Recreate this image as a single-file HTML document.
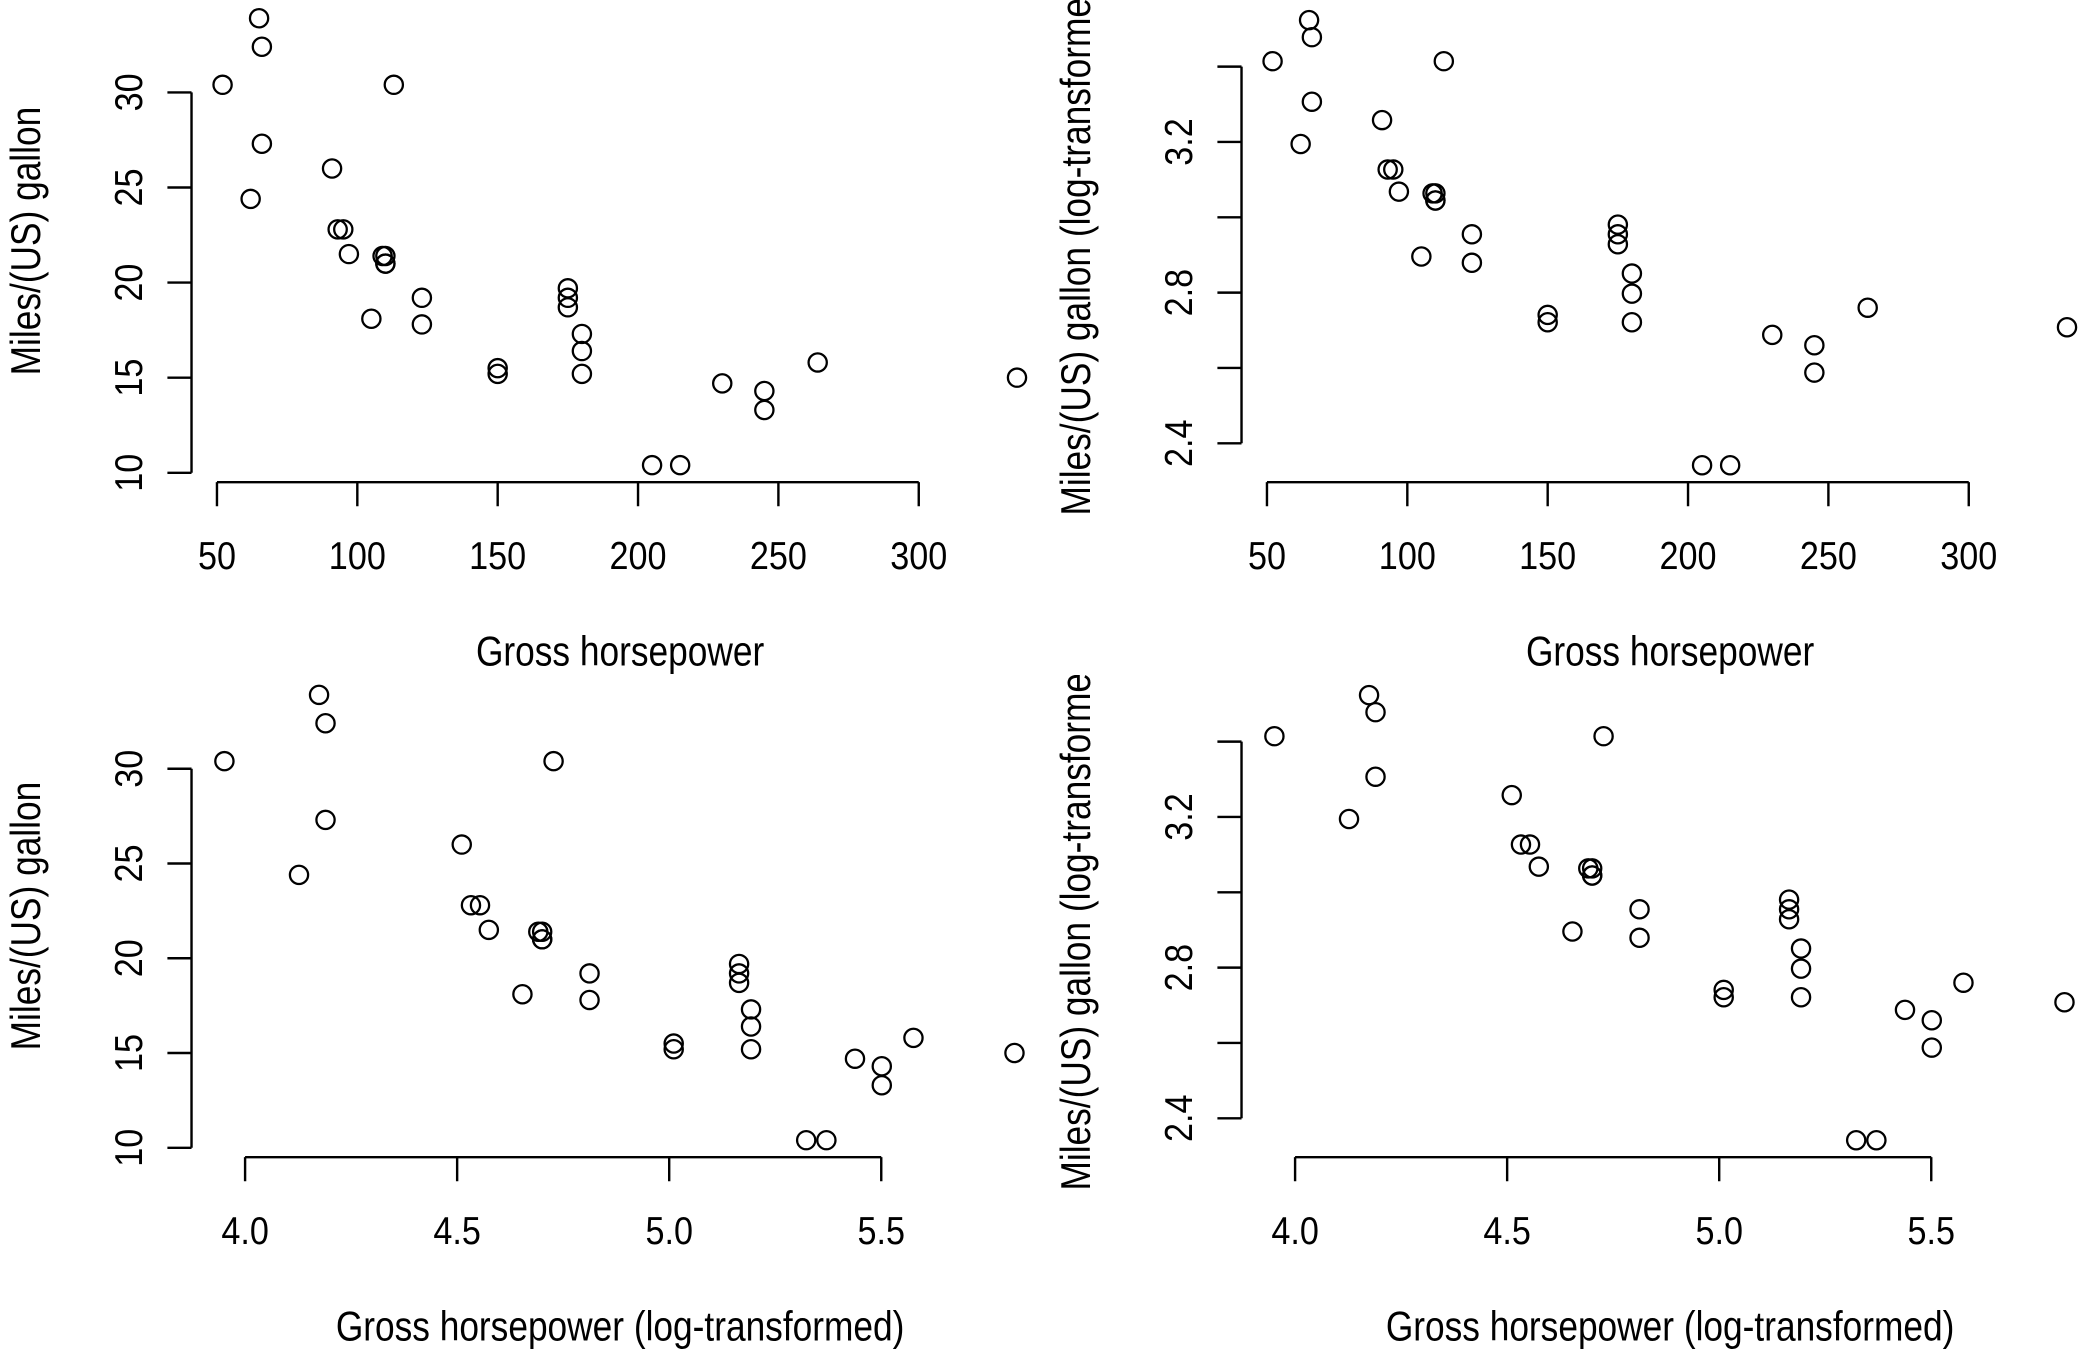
<!DOCTYPE html>
<html><head><meta charset="utf-8"><style>
html,body{margin:0;padding:0;background:#fff;}
svg{display:block;}
text{font-family:"Liberation Sans",sans-serif;fill:#000;}
</style></head><body>
<svg id="chart" width="2100" height="1350" viewBox="0 0 1568 1008" xmlns="http://www.w3.org/2000/svg">
<defs>
<clipPath id="c0"><rect x="0" y="0" width="784" height="504"/></clipPath>
<clipPath id="c1"><rect x="784" y="0" width="784" height="504"/></clipPath>
<clipPath id="c2"><rect x="0" y="504" width="784" height="504"/></clipPath>
<clipPath id="c3"><rect x="784" y="504" width="784" height="504"/></clipPath>
</defs>
</svg>
<script>
const hp=[110,110,93,110,175,105,245,62,95,123,123,180,180,180,205,215,230,66,52,65,97,150,150,245,175,66,91,113,264,175,335,109];
const mpg=[21,21,22.8,21.4,18.7,18.1,14.3,24.4,22.8,19.2,17.8,16.4,17.3,15.2,10.4,10.4,14.7,32.4,30.4,33.9,21.5,15.5,15.2,13.3,19.2,27.3,26,30.4,15.8,19.7,15,21.4];
const xTicksHp=[50,100,150,200,250,300];
const xTicksLog=[4.0,4.5,5.0,5.5];
const yTicksMpg=[10,15,20,25,30];
const yLabelsMpg=["10","15","20","25","30"];
const yTicksLog=[2.4,2.6,2.8,3.0,3.2,3.4];
const yLabelsLog=["2.4","","2.8","","3.2",""];
const svg=document.getElementById('chart');
const NS="http://www.w3.org/2000/svg";
function mk(tag,attrs,parent){const e=document.createElementNS(NS,tag);for(const k in attrs)e.setAttribute(k,attrs[k]);parent.appendChild(e);return e;}
const panels=[
 {ox:0,oy:0,logx:false,logy:false,xt:xTicksHp,xl:xTicksHp.map(String),x0:50,x1:300,px0:162,px1:686,yt:yTicksMpg,yl:yLabelsMpg,y0:10,y1:30,py0:353,py1:69,xlab:"Gross horsepower",ylab:"Miles/(US) gallon",name:"hp-vs-mpg"},
 {ox:784,oy:0,logx:false,logy:true,xt:xTicksHp,xl:xTicksHp.map(String),x0:50,x1:300,px0:946,px1:1470,yt:yTicksLog,yl:yLabelsLog,y0:2.4,y1:3.2,py0:331,py1:106,xlab:"Gross horsepower",ylab:"Miles/(US) gallon (log-transformed)",name:"hp-vs-logmpg"},
 {ox:0,oy:504,logx:true,logy:false,xt:xTicksLog,xl:["4.0","4.5","5.0","5.5"],x0:4,x1:5.5,px0:183,px1:658,yt:yTicksMpg,yl:yLabelsMpg,y0:10,y1:30,py0:857,py1:574,xlab:"Gross horsepower (log-transformed)",ylab:"Miles/(US) gallon",name:"loghp-vs-mpg"},
 {ox:784,oy:504,logx:true,logy:true,xt:xTicksLog,xl:["4.0","4.5","5.0","5.5"],x0:4,x1:5.5,px0:967,px1:1442,yt:yTicksLog,yl:yLabelsLog,y0:2.4,y1:3.2,py0:835,py1:610,xlab:"Gross horsepower (log-transformed)",ylab:"Miles/(US) gallon (log-transformed)",name:"loghp-vs-logmpg"}
];
panels.forEach((p,i)=>{
 const g=mk('g',{'clip-path':'url(#c'+i+')'},svg);
 
 
 const sx=v=>p.px0+(v-p.x0)*(p.px1-p.px0)/(p.x1-p.x0);
 const sy=v=>p.py0+(v-p.y0)*(p.py1-p.py0)/(p.y1-p.y0);
 const axY=p.oy+360, axX=p.ox+143;
 const xa=mk('g',{},g);
 
 
 mk('line',{x1:sx(p.xt[0]),x2:sx(p.xt[p.xt.length-1]),y1:axY,y2:axY,stroke:'#000','stroke-width':1.8},xa);
 p.xt.forEach((t,j)=>{
  mk('line',{x1:sx(t),x2:sx(t),y1:axY,y2:axY+18,stroke:'#000','stroke-width':1.8},xa);
  const tx=mk('text',{x:0,y:0,'text-anchor':'middle','font-size':29,transform:`translate(${sx(t)},${p.oy+425}) scale(0.88,1)`},xa);
  tx.textContent=p.xl[j];
  
  
 });
 const ya=mk('g',{},g);
 
 
 mk('line',{x1:axX,x2:axX,y1:sy(p.yt[0]),y2:sy(p.yt[p.yt.length-1]),stroke:'#000','stroke-width':1.8},ya);
 p.yt.forEach((t,j)=>{
  mk('line',{x1:axX,x2:axX-18,y1:sy(t),y2:sy(t),stroke:'#000','stroke-width':1.8},ya);
  if(p.yl[j]){
   const tx=mk('text',{x:0,y:0,'text-anchor':'middle','font-size':29,transform:`translate(${p.ox+106},${sy(t)}) rotate(-90) scale(0.88,1)`},ya);
   tx.textContent=p.yl[j];
   
   
  }
 });
 const xt=mk('text',{x:0,y:0,'text-anchor':'middle','font-size':31,transform:`translate(${p.ox+463},${p.oy+497}) scale(0.85,1)`},g);
 xt.textContent=p.xlab;
 
 
 const ytt=mk('text',{x:0,y:0,'text-anchor':'middle','font-size':31,transform:`translate(${p.ox+30},${p.oy+180}) rotate(-90) scale(0.85,1)`},g);
 ytt.textContent=p.ylab;
 
 
 hp.forEach((h,k)=>{
  const xv=p.logx?Math.log(h):h;
  const yv=p.logy?Math.log(mpg[k]):mpg[k];
  const c=mk('circle',{cx:sx(xv),cy:sy(yv),r:6.8,fill:'none',stroke:'#000','stroke-width':1.7},g);
  
  
 });
});
</script>
</body></html>
